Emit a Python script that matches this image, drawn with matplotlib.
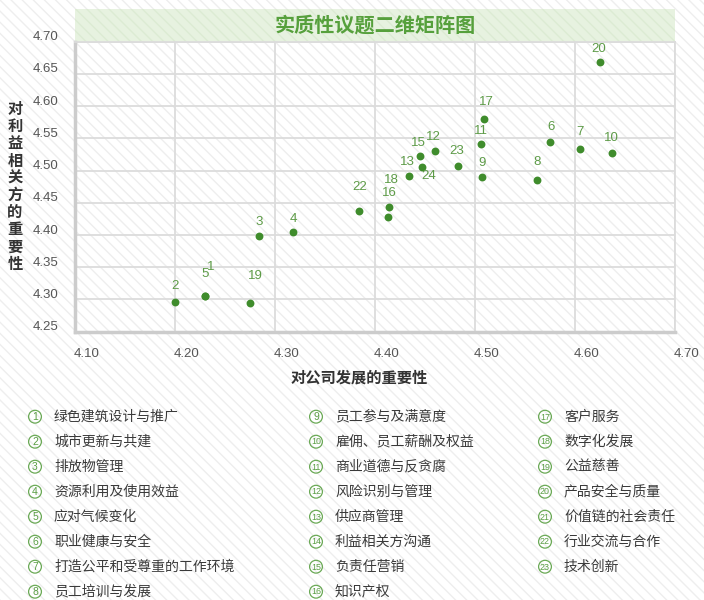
import matplotlib
matplotlib.use("Agg")
import matplotlib.pyplot as plt
import matplotlib.transforms as mtransforms
from matplotlib.patches import Rectangle

plt.rcParams['font.family'] = ['Noto Sans CJK SC', 'DejaVu Sans']
plt.rcParams['hatch.linewidth'] = 1.0

# data
point_labels = ['20', '17', '11', '6', '7', '10', '15', '12', '23', '24', '13',
                '9', '8', '16', '18', '22', '3', '4', '2', '5', '1', '19']
company_importance = [4.625, 4.509, 4.506, 4.575, 4.605, 4.637, 4.445, 4.460,
                      4.483, 4.447, 4.434, 4.507, 4.562, 4.414, 4.413, 4.384,
                      4.284, 4.318, 4.200, 4.230, 4.230, 4.275]
stakeholder_importance = [4.668, 4.580, 4.542, 4.544, 4.533, 4.528, 4.522, 4.530,
                          4.507, 4.505, 4.492, 4.490, 4.485, 4.444, 4.428, 4.438,
                          4.399, 4.405, 4.296, 4.305, 4.305, 4.294]
x_ticks = [4.10, 4.20, 4.30, 4.40, 4.50, 4.60, 4.70]
y_ticks = [4.25, 4.30, 4.35, 4.40, 4.45, 4.50, 4.55, 4.60, 4.65, 4.70]

topics = ['绿色建筑设计与推广', '城市更新与共建', '排放物管理', '资源利用及使用效益',
          '应对气候变化', '职业健康与安全', '打造公平和受尊重的工作环境', '员工培训与发展',
          '员工参与及满意度', '雇佣、员工薪酬及权益', '商业道德与反贪腐', '风险识别与管理',
          '供应商管理', '利益相关方沟通', '负责任营销', '知识产权',
          '客户服务', '数字化发展', '公益慈善', '产品安全与质量',
          '价值链的社会责任', '行业交流与合作', '技术创新']

title = '实质性议题二维矩阵图'
x_title = '对公司发展的重要性'
y_title = '对利益相关方的重要性'

# label offsets in pixels (dx, dy) from each dot
label_offsets = {'20': (-1, 13), '17': (2, 17), '11': (0, 13), '6': (1, 15),
                 '7': (0, 17), '10': (-1, 15), '15': (-2, 13), '12': (-2, 14),
                 '23': (-1, 15), '24': (7, -9), '13': (-2, 14), '9': (0, 14),
                 '8': (0, 18), '16': (0, 14), '18': (3, 37), '22': (1, 24),
                 '3': (0, 14), '4': (0, 13), '2': (0, 16), '5': (0, 22),
                 '1': (6, 29), '19': (5, 27)}

dot_green = '#3f8c2c'
text_green = '#5d9b47'
grid_col = '#dcdcdc'

W, H = 704, 600
fig = plt.figure(figsize=(W / 100, H / 100), dpi=100)

# striped background in pixel coordinates
bg = fig.add_axes([0, 0, 1, 1], zorder=-10)
bg.set_xlim(0, W)
bg.set_ylim(H, 0)
bg.axis('off')
bg.add_patch(Rectangle((0, 0), W, H, facecolor='white', edgecolor='#eeeeee',
                       hatch='\\\\\\', lw=0))
bg.add_patch(Rectangle((75, 8.5), 600, 33.2, facecolor='#e7f2e0', edgecolor='#dcebd3',
                       hatch='\\\\\\', lw=0))
bg.text(375, 25, title, ha='center', va='center', fontsize=14.5,
        fontweight='bold', color='#56a03c')

ax = fig.add_axes([75 / W, 1 - 331.7 / H, 600 / W, 290 / H])
ax.patch.set_alpha(0)
ax.scatter(company_importance, stakeholder_importance, s=32, color=dot_green,
           zorder=3, linewidths=0)
for lab, xv, yv in zip(point_labels, company_importance, stakeholder_importance):
    dx, dy = label_offsets[lab]
    ax.annotate(lab, (xv, yv), xytext=(dx, dy), textcoords='offset pixels',
                ha='center', va='center', fontsize=9.5, color=text_green,
                family=['Liberation Sans', 'DejaVu Sans'], zorder=4)

ax.set_xlim(4.10, 4.70)
ax.set_ylim(4.25, 4.70)
ax.set_xticks(x_ticks)
ax.set_yticks(y_ticks)
ax.set_xticklabels(['%.2f' % v for v in x_ticks])
ax.set_yticklabels(['%.2f' % v for v in y_ticks])
ax.grid(True, color=grid_col, lw=1.3)
ax.set_axisbelow(True)
ax.tick_params(length=0, labelsize=9.5, labelcolor='#555555', pad=12)
for lab in ax.get_xticklabels() + ax.get_yticklabels():
    lab.set_family(['Liberation Sans', 'DejaVu Sans'])
for lab in ax.get_xticklabels():
    lab.set_transform(lab.get_transform() +
                      mtransforms.ScaledTranslation(0.12, 0, fig.dpi_scale_trans))
for lab in ax.get_yticklabels():
    lab.set_transform(lab.get_transform() +
                      mtransforms.ScaledTranslation(0, 0.06, fig.dpi_scale_trans))
for side in ['top', 'right']:
    ax.spines[side].set_color(grid_col)
    ax.spines[side].set_linewidth(1.3)
for side in ['left', 'bottom']:
    ax.spines[side].set_color('#cccccc')
    ax.spines[side].set_linewidth(2.5)

# axis titles
bg.text(359, 378, x_title, ha='center', va='center', fontsize=11,
        fontweight='bold', color='#333333')
for i, ch in enumerate(y_title):
    bg.text(15, 109 + i * 17.2, ch, ha='center', va='center', fontsize=11,
            fontweight='bold', color='#333333')

# numbered topic list
col_x = [35, 316, 545]
per_col = [8, 8, 7]
k = 0
for c, n in enumerate(per_col):
    for r in range(n):
        yy = 416.7 + r * 25
        bg.scatter([col_x[c]], [yy], s=85, facecolor='none', edgecolor='#6aa955',
                   linewidths=0.9)
        num = str(k + 1)
        bg.text(col_x[c], yy + 0.3, num, ha='center', va='center',
                fontsize=7.5 if len(num) == 1 else 6.4, color='#5a9e44',
                family=['Liberation Sans', 'DejaVu Sans'])
        bg.text(col_x[c] + 19, yy, topics[k], ha='left', va='center',
                fontsize=10, color='#3a3a3a')
        k += 1

fig.savefig('out.png', dpi=100)
